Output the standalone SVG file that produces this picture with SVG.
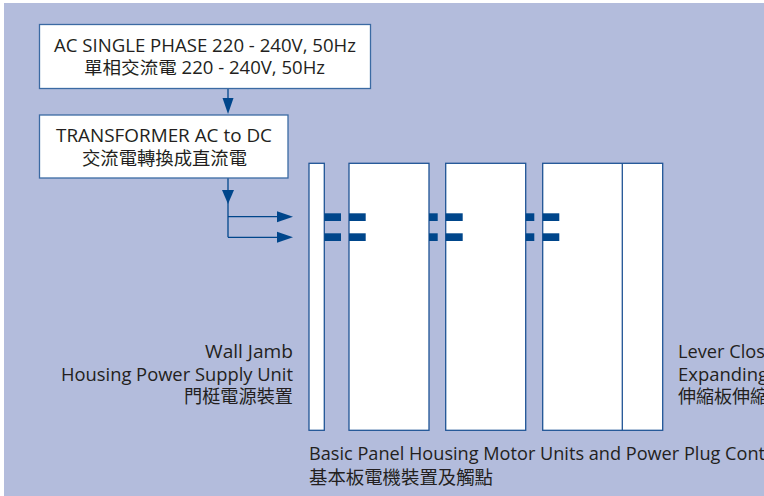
<svg xmlns="http://www.w3.org/2000/svg" width="764" height="496" viewBox="0 0 764 496">
<defs>
<style>
.t{font-family:"Open Sans","Noto Sans CJK TC",sans-serif;font-size:17.5px;fill:#231f20}
.c{font-family:"Noto Sans CJK TC",sans-serif;font-size:18px;fill:#231f20}
.box{fill:#fff;stroke:#3b6aa3;stroke-width:1.3}
.pan{fill:#fff;stroke:#1f5495;stroke-width:1.3}
.ln{stroke:#00468b;stroke-width:1.3;fill:none}
.bar{fill:#00468b}
.ah{fill:#00468b}
</style>
</defs>
<rect x="0" y="0" width="764" height="496" fill="#ffffff"/>
<rect x="4" y="3" width="760" height="493" fill="#b3bcdc"/>
<g id="connectors">
<line class="ln" x1="228" y1="88.7" x2="228" y2="100"/>
<polygon class="ah" points="222.5,98 233.5,98 228,114"/>
<line class="ln" x1="228" y1="178" x2="228" y2="237.3"/>
<polygon class="ah" points="222,190 234,190 228,204"/>
<line class="ln" x1="228" y1="216.7" x2="280" y2="216.7"/>
<line class="ln" x1="228" y1="237.3" x2="280" y2="237.3"/>
<polygon class="ah" points="277,211.2 293,216.7 277,222.2"/>
<polygon class="ah" points="277,231.8 293,237.3 277,242.8"/>
</g>
<g id="ac-supply">
<rect class="box" x="39.5" y="24.5" width="331" height="64"/>
<text class="t" x="54" y="52" textLength="302" lengthAdjust="spacingAndGlyphs">AC SINGLE PHASE 220 - 240V, 50Hz</text>
<text class="t" x="84" y="74" textLength="241" lengthAdjust="spacingAndGlyphs">單相交流電 220 - 240V, 50Hz</text>
</g>
<g id="transformer">
<rect class="box" x="39.5" y="115" width="248.5" height="63"/>
<text class="t" x="56" y="141.5" textLength="216" lengthAdjust="spacingAndGlyphs">TRANSFORMER AC to DC</text>
<text class="c" x="82" y="165" textLength="165" lengthAdjust="spacingAndGlyphs">交流電轉換成直流電</text>
</g>
<g id="wall-jamb">
<rect class="pan" x="309" y="163.3" width="15.3" height="267"/>
</g>
<g id="panel-1">
<rect class="pan" x="349" y="163.3" width="80" height="267"/>
</g>
<g id="panel-2">
<rect class="pan" x="445.7" y="163.3" width="80" height="267"/>
</g>
<g id="panel-3">
<rect class="pan" x="542.7" y="163.3" width="120" height="267"/>
<line class="pan" x1="622.3" y1="163.3" x2="622.3" y2="430.3"/>
</g>
<g id="contacts">
<rect class="bar" x="324.3" y="213.3" width="16.7" height="7.7"/>
<rect class="bar" x="349" y="213.3" width="16.7" height="7.7"/>
<rect class="bar" x="429" y="213.3" width="8.7" height="7.7"/>
<rect class="bar" x="445.7" y="213.3" width="17" height="7.7"/>
<rect class="bar" x="525.7" y="213.3" width="8.6" height="7.7"/>
<rect class="bar" x="542.7" y="213.3" width="16.6" height="7.7"/>
<rect class="bar" x="324.3" y="233.3" width="16.7" height="7.7"/>
<rect class="bar" x="349" y="233.3" width="16.7" height="7.7"/>
<rect class="bar" x="429" y="233.3" width="8.7" height="7.7"/>
<rect class="bar" x="445.7" y="233.3" width="17" height="7.7"/>
<rect class="bar" x="525.7" y="233.3" width="8.6" height="7.7"/>
<rect class="bar" x="542.7" y="233.3" width="16.6" height="7.7"/>
</g>
<g id="label-wall-jamb">
<text class="t" x="205" y="358" textLength="88" lengthAdjust="spacingAndGlyphs">Wall Jamb</text>
<text class="t" x="61" y="380.5" textLength="232" lengthAdjust="spacingAndGlyphs">Housing Power Supply Unit</text>
<text class="c" x="184" y="403" textLength="109" lengthAdjust="spacingAndGlyphs">門梃電源裝置</text>
</g>
<g id="label-basic-panel">
<text class="t" x="309" y="460" textLength="456" lengthAdjust="spacingAndGlyphs">Basic Panel Housing Motor Units and Power Plug Cont</text>
<text class="c" x="309" y="484" textLength="184" lengthAdjust="spacingAndGlyphs">基本板電機裝置及觸點</text>
</g>
<g id="label-lever">
<text class="t" x="678" y="358" textLength="87" lengthAdjust="spacingAndGlyphs">Lever Clos</text>
<text class="t" x="678" y="380.5" textLength="90" lengthAdjust="spacingAndGlyphs">Expanding</text>
<text class="c" x="678" y="403">伸縮板伸縮</text>
</g>
</svg>
